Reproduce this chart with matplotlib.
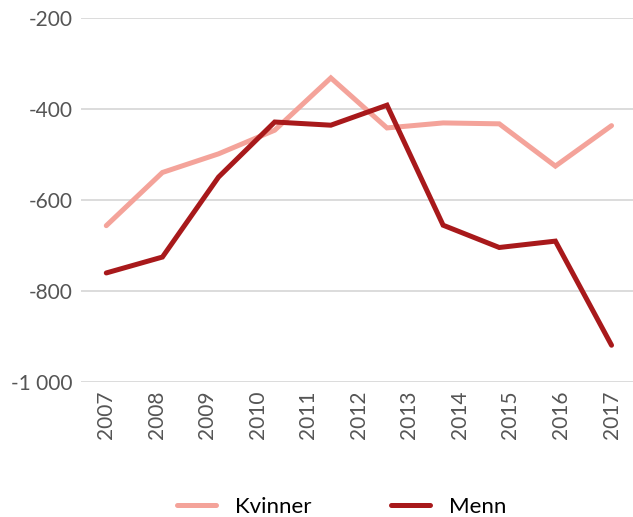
import matplotlib
matplotlib.use("Agg")
import matplotlib.pyplot as plt
import numpy as np
from matplotlib.ticker import FuncFormatter

# data
years = ["2007", "2008", "2009", "2010", "2011", "2012",
         "2013", "2014", "2015", "2016", "2017"]
kvinner = [-656, -539, -498, -446, -331, -441, -430, -432, -525, -436]
menn = [-760, -725, -549, -428, -435, -391, -655, -704, -690, -919]
y_ticks = [-1000, -800, -600, -400, -200]

plt.rcParams['font.family'] = ['Lato', 'DejaVu Sans']

fig = plt.figure(figsize=(6.33, 5.17), dpi=100)
ax = fig.add_axes([0.128, 0.261, 0.878, 0.7035])

# the points are spread over the full span of the year labels
xs = np.linspace(0, len(years) - 1, len(kvinner))
ax.plot(xs, kvinner, color='#F4A39A', lw=3.6, label='Kvinner',
        solid_capstyle='round', solid_joinstyle='miter', clip_on=False, zorder=3)
ax.plot(xs, menn, color='#A8191B', lw=3.6, label='Menn',
        solid_capstyle='round', solid_joinstyle='miter', clip_on=False, zorder=3)

ax.set_xlim(-0.5, len(years) - 0.5)
ax.set_ylim(-1000, -200)
ax.set_yticks(y_ticks)
ax.yaxis.set_major_formatter(FuncFormatter(
    lambda v, p: ('-' if v < 0 else '') + f"{abs(int(v)):,}".replace(',', ' ')))
ax.set_xticks(range(len(years)))
ax.set_xticklabels(years, rotation=90)

ax.grid(axis='y', color='#d9d9d9', lw=1.3)
ax.set_axisbelow(True)
for s in ax.spines.values():
    s.set_visible(False)
ax.tick_params(axis='both', length=0, labelsize=15, labelcolor='#555555')
ax.tick_params(axis='y', pad=6)
ax.tick_params(axis='x', pad=6)

fig.legend(loc='center', bbox_to_anchor=(0.54, 0.02), ncol=2, frameon=False,
           fontsize=16, handlelength=1.75, handletextpad=0.85, columnspacing=3.6)

fig.savefig('out.png', dpi=100)
